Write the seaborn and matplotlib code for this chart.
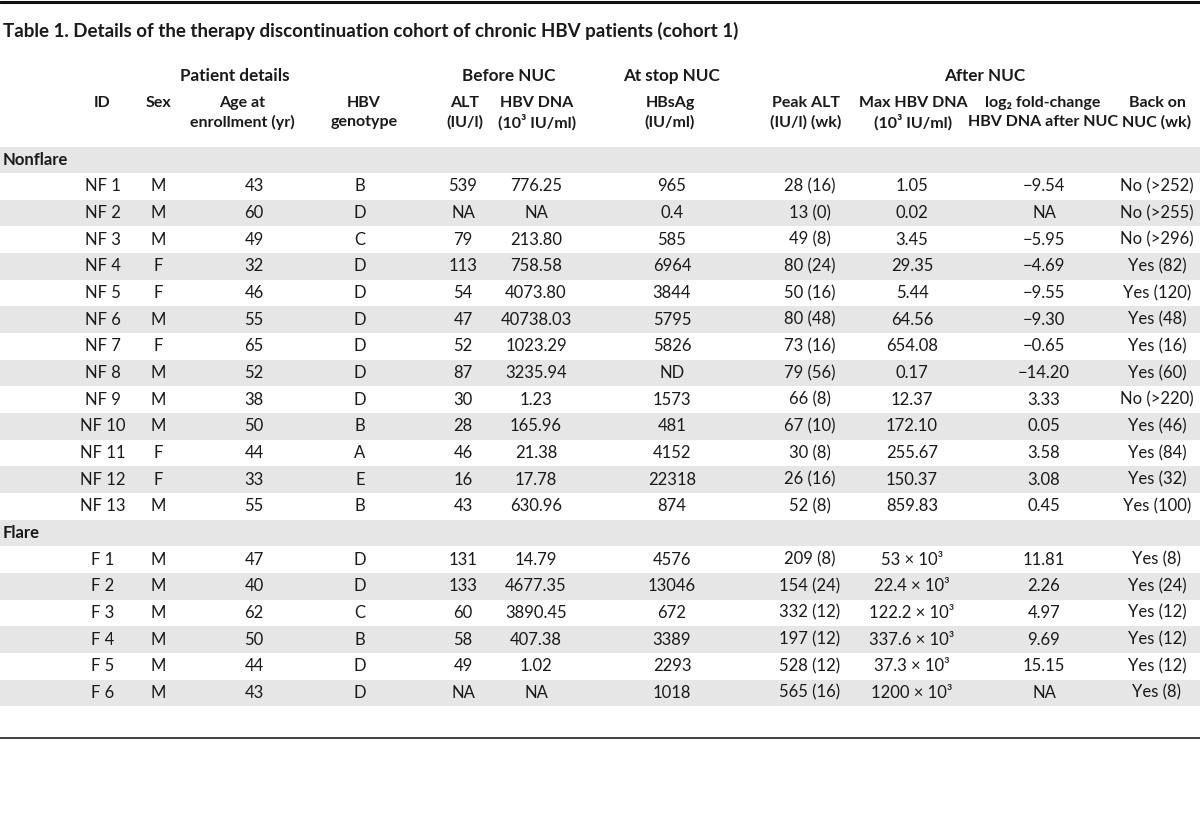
import numpy as np
import pandas as pd
import matplotlib
matplotlib.use('Agg')
import matplotlib.pyplot as plt
import seaborn as sns

# ── DATA ────────────────────────────────────────────────────────
title = 'Table 1. Details of the therapy discontinuation cohort of chronic HBV patients (cohort 1)'

nonflare_ids = ['NF 1', 'NF 2', 'NF 3', 'NF 4', 'NF 5', 'NF 6', 'NF 7',
                'NF 8', 'NF 9', 'NF 10', 'NF 11', 'NF 12', 'NF 13']
flare_ids = ['F 1', 'F 2', 'F 3', 'F 4', 'F 5', 'F 6']

sex = ['M', 'M', 'M', 'F', 'F', 'M', 'F', 'M', 'M', 'M', 'F', 'F', 'M',
       'M', 'M', 'M', 'M', 'M', 'M']
age = [43, 60, 49, 32, 46, 55, 65, 52, 38, 50, 44, 33, 55,
       47, 40, 62, 50, 44, 43]
genotype = ['B', 'D', 'C', 'D', 'D', 'D', 'D', 'D', 'D', 'B', 'A', 'E', 'B',
            'D', 'D', 'C', 'B', 'D', 'D']
alt_before = [539, 'NA', 79, 113, 54, 47, 52, 87, 30, 28, 46, 16, 43,
              131, 133, 60, 58, 49, 'NA']
dna_before = ['776.25', 'NA', '213.80', '758.58', '4073.80', '40738.03',
              '1023.29', '3235.94', '1.23', '165.96', '21.38', '17.78',
              '630.96', '14.79', '4677.35', '3890.45', '407.38', '1.02', 'NA']
hbsag_stop = ['965', '0.4', '585', '6964', '3844', '5795', '5826', 'ND',
              '1573', '481', '4152', '22318', '874',
              '4576', '13046', '672', '3389', '2293', '1018']
peak_alt = [28, 13, 49, 80, 50, 80, 73, 79, 66, 67, 30, 26, 52,
            209, 154, 332, 197, 528, 565]
peak_alt_wk = [16, 0, 8, 24, 16, 48, 16, 56, 8, 10, 8, 16, 8,
               8, 24, 12, 12, 12, 16]
max_dna_nonflare = ['1.05', '0.02', '3.45', '29.35', '5.44', '64.56',
                    '654.08', '0.17', '12.37', '172.10', '255.67',
                    '150.37', '859.83']
max_dna_flare_e3 = ['53', '22.4', '122.2', '337.6', '37.3', '1200']
log2_fc = ['\u22129.54', 'NA', '\u22125.95', '\u22124.69', '\u22129.55',
           '\u22129.30', '\u22120.65', '\u221214.20', '3.33', '0.05',
           '3.58', '3.08', '0.45',
           '11.81', '2.26', '4.97', '9.69', '15.15', 'NA']
back_on = ['No', 'No', 'No', 'Yes', 'Yes', 'Yes', 'Yes', 'Yes', 'No', 'Yes',
           'Yes', 'Yes', 'Yes', 'Yes', 'Yes', 'Yes', 'Yes', 'Yes', 'Yes']
back_on_wk = ['>252', '>255', '>296', '82', '120', '48', '16', '60', '>220',
              '46', '84', '32', '100', '8', '24', '12', '12', '12', '8']

group_headers = ['Patient details', 'Before NUC', 'At stop NUC', 'After NUC']
col_headers = [['ID', ''], ['Sex', ''], ['Age at', 'enrollment (yr)'],
               ['HBV', 'genotype'], ['ALT', '(IU/l)'],
               ['HBV DNA', '(10\u00b3 IU/ml)'], ['HBsAg', '(IU/ml)'],
               ['Peak ALT', '(IU/l) (wk)'], ['Max HBV DNA', '(10\u00b3 IU/ml)'],
               ['log\u2082 fold-change', 'HBV DNA after NUC'],
               ['Back on', 'NUC (wk)']]

# ── BUILD TABLE ─────────────────────────────────────────────────
ids = nonflare_ids + flare_ids
max_dna = max_dna_nonflare + [f'{v} \u00d7 10\u00b3' for v in max_dna_flare_e3]
df = pd.DataFrame({
    'ID': ids,
    'Sex': sex,
    'Age': [str(a) for a in age],
    'Genotype': genotype,
    'ALT': [str(a) for a in alt_before],
    'DNA': dna_before,
    'HBsAg': hbsag_stop,
    'PeakALT': [f'{a} ({w})' for a, w in zip(peak_alt, peak_alt_wk)],
    'MaxDNA': max_dna,
    'Log2FC': log2_fc,
    'BackOn': [f'{b} ({w})' for b, w in zip(back_on, back_on_wk)],
})

# one table row per line, with section label rows in between
rows = [('section', 'Nonflare')]
rows += [('data', i) for i in range(len(nonflare_ids))]
rows += [('section', 'Flare')]
rows += [('data', len(nonflare_ids) + i) for i in range(len(flare_ids))]

# ── LAYOUT ──────────────────────────────────────────────────────
W, H = 1200, 825
col_x_head = [102, 158, 242, 364, 465, 537, 670, 806, 913, 1043, 1157]
col_x_data = [103, 158, 254, 360, 463, 536, 672, 810, 912, 1044, 1157]
group_x = [235, 509, 672, 985]
row_top, row_h = 146.5, 26.65
stripe = '#e6e6e6'
ink = '#1a1a1a'
fam = ['Lato', 'DejaVu Sans']

sns.set_theme(style='white')
plt.rcParams['font.family'] = fam

fig = plt.figure(figsize=(12, 8.25), dpi=100)
ax = fig.add_axes([0, 0, 1, 1])
ax.set_xlim(0, W)
ax.set_ylim(H, 0)
ax.axis('off')

# rules
ax.axhline(2, color='#111111', lw=2.2)
ax.axhline(738, color='#333333', lw=1.3)

ax.text(3, 31, title, fontsize=13.5, fontweight='bold', color=ink,
        ha='left', va='center')

for gx, g in zip(group_x, group_headers):
    ax.text(gx, 76, g, fontsize=12.3, fontweight='bold', color=ink,
            ha='center', va='center')

for cx, (l1, l2) in zip(col_x_head, col_headers):
    ax.text(cx, 103, l1, fontsize=11.5, fontweight='bold', color=ink,
            ha='center', va='center')
    if l2:
        ax.text(cx, 122, l2, fontsize=11.5, fontweight='bold', color=ink,
                ha='center', va='center')

cols = list(df.columns)
for k, (kind, val) in enumerate(rows):
    y0 = row_top + k * row_h
    yc = y0 + row_h / 2
    if k % 2 == 0:
        ax.axhspan(y0, y0 + row_h, color=stripe, lw=0, zorder=0)
    if kind == 'section':
        ax.text(3, yc, val, fontsize=12, fontweight='bold', color=ink,
                ha='left', va='center')
    else:
        rec = df.iloc[val]
        for cx, c in zip(col_x_data, cols):
            ax.text(cx, yc, rec[c], fontsize=12, color=ink,
                    ha='center', va='center')

fig.savefig('out.png', dpi=100, facecolor='white')
